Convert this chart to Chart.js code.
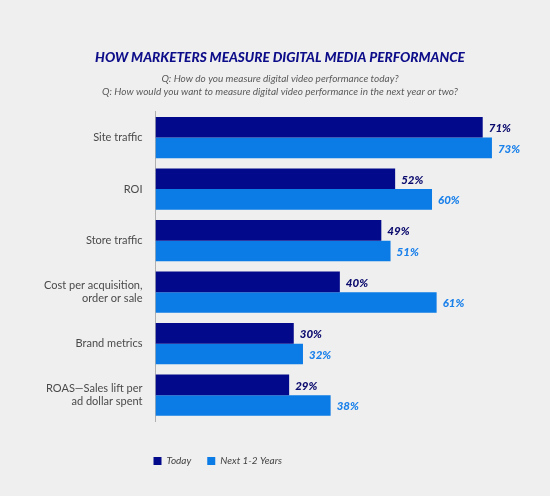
<!DOCTYPE html>
<html><head><meta charset="utf-8">
<script src="https://cdn.jsdelivr.net/npm/chart.js@4"></script>
<style>
html,body{margin:0;padding:0;background:#efefef;}
#wrap{width:550px;height:496px;position:relative;}
</style></head>
<body><div id="wrap"><canvas id="c" width="550" height="496"></canvas></div>
<script>
const categories = ["Site traffic", "ROI", "Store traffic", ["Cost per acquisition,", "order or sale"], "Brand metrics", ["ROAS\u2014Sales lift per", "ad dollar spent"]];
const seriesNames = ["Today", "Next 1-2 Years"];
const todayValues = [71, 52, 49, 40, 30, 29];
const nextValues = [73, 60, 51, 61, 32, 38];
const titleText = "HOW MARKETERS MEASURE DIGITAL MEDIA PERFORMANCE";
const subtitleLines = ["Q: How do you measure digital video performance today?", "Q: How would you want to measure digital video performance in the next year or two?"];

const DARK = "#02098a";
const LIGHT = "#0b7be6";
const LABEL_COLORS = ["#0b0b6e", "#1a80ea"];

const valueLabels = {
  id: "valueLabels",
  afterDatasetsDraw(chart) {
    const ctx = chart.ctx;
    ctx.save();
    ctx.font = "italic 900 11.5px Lato";
    ctx.textBaseline = "middle";
    ctx.textAlign = "left";
    chart.data.datasets.forEach((ds, i) => {
      const meta = chart.getDatasetMeta(i);
      meta.data.forEach((bar, j) => {
        ctx.fillStyle = LABEL_COLORS[i];
        ctx.fillText(ds.data[j] + "%", bar.x + 6, bar.y + 1);
      });
    });
    ctx.restore();
  }
};

const legendShift = {
  id: "legendShift",
  afterLayout(chart) {
    const lg = chart.legend;
    if (lg) { const d = 18; lg.left -= d; lg.right -= d; }
  }
};

new Chart(document.getElementById("c"), {
  type: "bar",
  data: {
    labels: categories,
    datasets: [
      { label: seriesNames[0], data: todayValues, backgroundColor: DARK, categoryPercentage: 0.8, barPercentage: 1.0 },
      { label: seriesNames[1], data: nextValues, backgroundColor: LIGHT, categoryPercentage: 0.8, barPercentage: 1.0 }
    ]
  },
  options: {
    indexAxis: "y",
    responsive: false,
    animation: false,
    layout: { padding: { top: 49, right: 0, bottom: 20, left: 10 } },
    scales: {
      x: {
        min: 0, max: 85.6,
        display: true,
        ticks: { display: false },
        grid: { display: false },
        border: { display: false },
        afterFit(s) { s.height = 19; }
      },
      y: {
        grid: { display: false, drawTicks: false },
        border: { display: true, color: "#b0b0b0", width: 1 },
        ticks: { color: "#4a4a4a", font: { family: "Lato", size: 11 }, padding: 13 },
        afterFit(s) { s.width = 145.5; }
      }
    },
    plugins: {
      title: {
        display: true, text: titleText, color: "#0d0d8a",
        font: { family: "Lato", size: 13.6, weight: "900", style: "italic" },
        padding: { top: 0, bottom: 7 }
      },
      subtitle: {
        display: true, text: subtitleLines, color: "#5a5a5a",
        font: { family: "Lato", size: 10, style: "italic", lineHeight: 1.3 },
        padding: { top: 0, bottom: 13.5 }
      },
      legend: {
        position: "bottom", align: "start", fullSize: false,
        labels: { boxWidth: 8, boxHeight: 8, color: "#444", padding: 16,
          font: { family: "Lato", size: 10, style: "italic" } }
      },
      tooltip: { enabled: false }
    }
  },
  plugins: [valueLabels, legendShift]
});
</script></body></html>
